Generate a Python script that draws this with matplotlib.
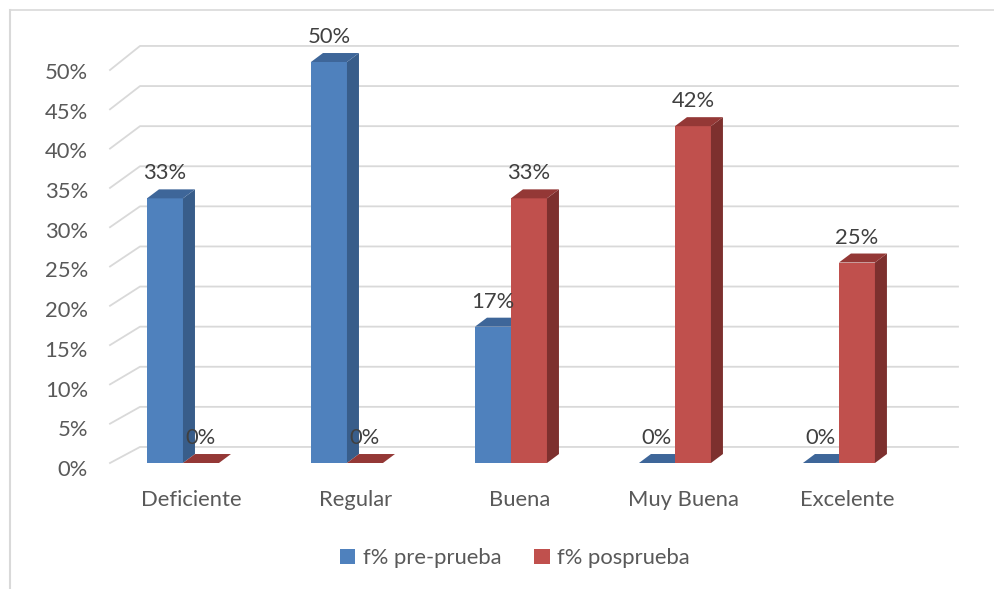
import matplotlib
matplotlib.use('Agg')
import matplotlib.pyplot as plt
from matplotlib.patches import Polygon, Patch
from matplotlib.lines import Line2D
import numpy as np

categories = ['Deficiente', 'Regular', 'Buena', 'Muy Buena', 'Excelente']
pre = [0.33, 0.50, 0.17, 0.00, 0.00]
pos = [0.00, 0.00, 0.33, 0.42, 0.25]
series_names = ['f% pre-prueba', 'f% posprueba']
yticks = [0, 0.05, 0.10, 0.15, 0.20, 0.25, 0.30, 0.35, 0.40, 0.45, 0.50]

plt.rcParams['font.family'] = ['Lato', 'DejaVu Sans']

blue = ('#4F81BD', '#385D8A', '#3E6699')
red = ('#C0504D', '#7D302E', '#943836')
grid_c = '#D9D9D9'
fs = 15.8

fig = plt.figure(figsize=(9.95, 5.89), dpi=100)
ax = fig.add_axes([110 / 995, (589 - 463) / 589, 848 / 995, 423 / 589])
ax.set_xlim(-0.445, 4.726)
ax.set_ylim(0, 423 / 802)
ax.axis('off')

# chart frame
fig.add_artist(Line2D([10 / 995, 1], [1 - 10 / 589, 1 - 10 / 589], color=grid_c, lw=1.2))
fig.add_artist(Line2D([10 / 995, 10 / 995], [0, 1 - 10 / 589], color=grid_c, lw=1.5))

# back wall grid with depth slant
wall_dx = 0.183
x0 = -0.445
for v in yticks:
    ax.plot([x0, x0 + wall_dx, 4.726], [0.98 * v, 0.02 + v, 0.02 + v],
            color=grid_c, lw=1.3, zorder=1, clip_on=False)
    ax.text(-0.579, -0.0087 + 0.99 * v, '{:d}%'.format(int(round(v * 100))),
            ha='right', va='center', fontsize=fs, color='#595959')

x = np.arange(len(categories))
w = 0.2195
ddx = 0.0732
ddy = 0.0112


def bars3d(xc, vals, cols, z):
    ax.bar(xc, vals, w, color=cols[0], edgecolor='none', zorder=z)
    for xi, v in zip(xc, vals):
        xl = xi - w / 2
        xr = xi + w / 2
        side = Polygon([(xr, 0), (xr + ddx, ddy), (xr + ddx, v + ddy), (xr, v)],
                       closed=True, facecolor=cols[1], edgecolor='none', zorder=z)
        top = Polygon([(xl, v), (xr, v), (xr + ddx, v + ddy), (xl + ddx, v + ddy)],
                      closed=True, facecolor=cols[2], edgecolor='none', zorder=z)
        ax.add_patch(side)
        ax.add_patch(top)
        ax.text(xi, v + 0.031, '{:d}%'.format(int(round(v * 100))), ha='center',
                va='center', fontsize=fs, color='#404040', zorder=5)


bars3d(x - w / 2, pre, blue, 2)
bars3d(x + w / 2, pos, red, 3)

for xi, c in zip(x, categories):
    ax.text(xi + 0.05, -0.046, c, ha='center', va='center', fontsize=fs, color='#595959')

handles = [Patch(facecolor=blue[0]), Patch(facecolor=red[0])]
fig.legend(handles, series_names, loc='center', bbox_to_anchor=(515 / 995, 31 / 589),
           ncol=2, frameon=False, fontsize=fs, labelcolor='#595959',
           handlelength=0.7, handleheight=0.7, handletextpad=0.35, columnspacing=1.5)

fig.savefig('out.png', dpi=100)
